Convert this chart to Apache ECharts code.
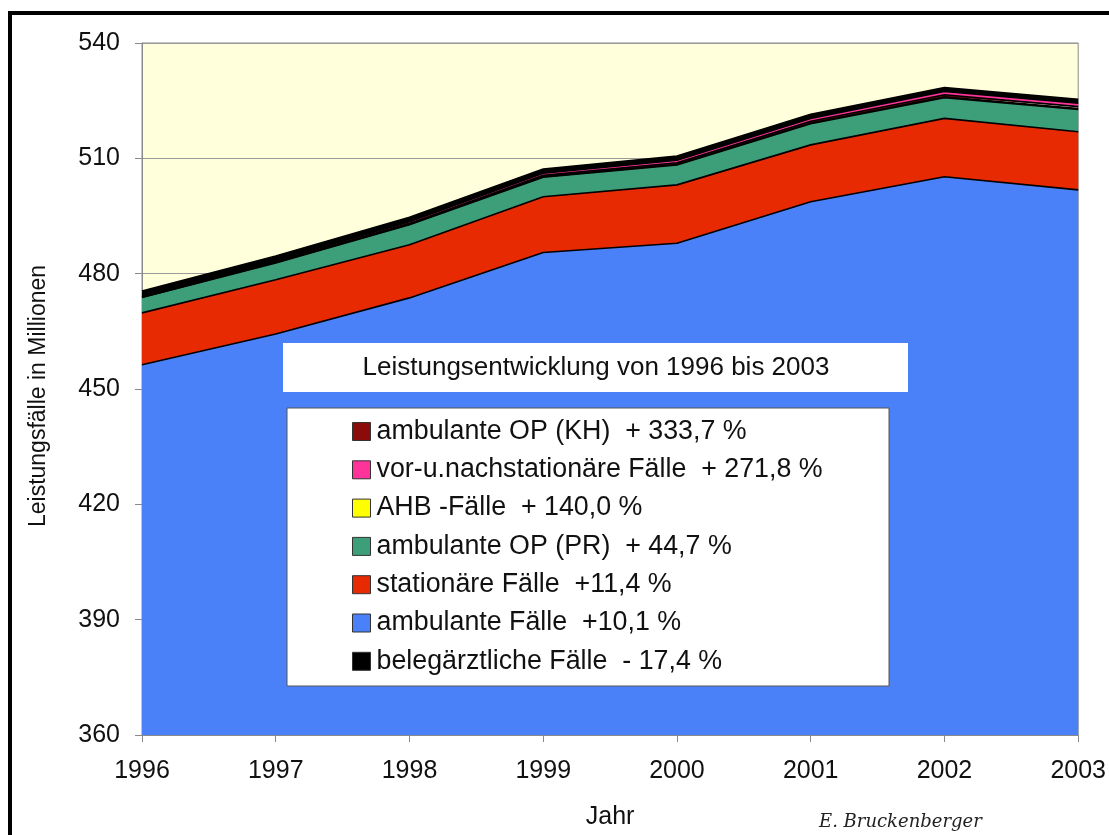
<!DOCTYPE html>
<html>
<head>
<meta charset="utf-8">
<script src="https://cdn.jsdelivr.net/npm/echarts@6/dist/echarts.min.js"></script>
<style>
  html, body { margin: 0; padding: 0; background: #ffffff; }
  #chart { width: 1109px; height: 835px; }
</style>
</head>
<body>
<div id="chart"></div>
<script>
// Leistungsfälle in Millionen, 1996–2003 (gestapelt, von unten nach oben)
var years = ['1996', '1997', '1998', '1999', '2000', '2001', '2002', '2003'];

var ambulanteFaelle  = [456.3, 464.3, 473.7, 485.5, 487.9, 498.7, 505.2, 501.8];
var stationaer       = [13.5, 14.1, 13.8, 14.5, 15.2, 14.8, 15.2, 15.1];
var ambOpPraxis      = [4.0, 4.4, 5.2, 5.1, 5.2, 5.5, 5.4, 5.8];
var ahb              = [0.10, 0.11, 0.13, 0.15, 0.17, 0.20, 0.22, 0.24];
var ambOpKH          = [0.12, 0.18, 0.25, 0.32, 0.38, 0.44, 0.50, 0.52];
var vorNachstationaer= [0.24, 0.30, 0.40, 0.55, 0.65, 0.75, 0.85, 0.89];
var belegaerztlich   = [1.20, 1.19, 1.17, 1.12, 1.08, 1.05, 1.02, 0.99];

var yTicks = [360, 390, 420, 450, 480, 510, 540];

// Legend entries, top to bottom, with their change 1996–2003
var legendNames = [
  'ambulante OP (KH)',
  'vor-u.nachstationäre Fälle',
  'AHB -Fälle',
  'ambulante OP (PR)',
  'stationäre Fälle',
  'ambulante Fälle',
  'belegärztliche Fälle'
];
var legendChanges = [
  '  + 333,7 %',
  '  + 271,8 %',
  '  + 140,0 %',
  '  + 44,7 %',
  '  +11,4 %',
  '  +10,1 %',
  '  - 17,4 %'
];

var stackOrder = [
  { name: 'ambulante Fälle',            data: ambulanteFaelle,   color: '#4A80F8' },
  { name: 'stationäre Fälle',           data: stationaer,        color: '#E82A02' },
  { name: 'ambulante OP (PR)',          data: ambOpPraxis,       color: '#3D9F79' },
  { name: 'AHB -Fälle',                 data: ahb,               color: '#FFFF00' },
  { name: 'ambulante OP (KH)',          data: ambOpKH,           color: '#8B0A0A' },
  { name: 'vor-u.nachstationäre Fälle', data: vorNachstationaer, color: '#FF3399' },
  { name: 'belegärztliche Fälle',       data: belegaerztlich,    color: '#000000' }
];

var FONT = 'Liberation Sans, Arial, sans-serif';

var series = stackOrder.map(function (s) {
  return {
    name: s.name,
    type: 'line',
    stack: 'total',
    data: s.data,
    symbol: 'none',
    showSymbol: false,
    clip: true,
    color: s.color,
    z: 3,
    itemStyle: { color: s.color, borderColor: '#222', borderWidth: 1 },
    lineStyle: { color: '#000000', width: 1.6 },
    areaStyle: { color: s.color, opacity: 1 },
    emphasis: { disabled: true }
  };
});

var chart = echarts.init(document.getElementById('chart'), null, { renderer: 'canvas' });

chart.setOption({
  backgroundColor: '#ffffff',
  animation: false,
  grid: {
    left: 142, right: 30, top: 43, bottom: 100,
    show: true,
    backgroundColor: '#FFFFDC',
    borderColor: '#8a8a8a',
    borderWidth: 1
  },
  xAxis: {
    type: 'category',
    data: years,
    boundaryGap: false,
    name: 'Jahr',
    nameLocation: 'middle',
    nameGap: 70,
    nameTextStyle: { fontFamily: FONT, fontSize: 25, color: '#111' },
    axisLine: { lineStyle: { color: '#8a8a8a', width: 1 } },
    axisTick: { show: true, length: 7, lineStyle: { color: '#8a8a8a' } },
    axisLabel: { fontFamily: FONT, fontSize: 25, color: '#111', margin: 24 },
    splitLine: { show: false }
  },
  yAxis: {
    type: 'value',
    min: yTicks[0],
    max: yTicks[yTicks.length - 1],
    interval: yTicks[1] - yTicks[0],
    name: 'Leistungsfälle in Millionen',
    nameLocation: 'middle',
    nameGap: 92,
    nameRotate: 90,
    nameTextStyle: { fontFamily: FONT, fontSize: 23, color: '#111', padding: [0, 14, 0, 0] },
    axisLine: { show: true, lineStyle: { color: '#8a8a8a', width: 1 } },
    axisTick: { show: true, length: 7, lineStyle: { color: '#8a8a8a' } },
    axisLabel: { fontFamily: FONT, fontSize: 25, color: '#111', margin: 22 },
    splitLine: { show: true, lineStyle: { color: '#9a9a9a', width: 1 } }
  },
  legend: {
    orient: 'vertical',
    left: 352,
    top: 418,
    padding: 0,
    itemWidth: 18,
    itemHeight: 18,
    itemGap: 11.3,
    icon: 'rect',
    data: legendNames,
    selectedMode: false,
    itemStyle: { borderColor: '#333', borderWidth: 1 },
    textStyle: { fontFamily: FONT, fontSize: 26.8, color: '#111', padding: [0, 0, 0, 1] },
    formatter: function (name) {
      var i = legendNames.indexOf(name);
      return name + legendChanges[i];
    },
    z: 12
  },
  graphic: [
    {
      type: 'rect',
      z: 10,
      shape: { x: 283, y: 343, width: 625, height: 49 },
      style: { fill: '#ffffff', stroke: 'none' }
    },
    {
      type: 'text',
      z: 11,
      x: 596, y: 368,
      style: {
        text: 'Leistungsentwicklung von 1996 bis 2003',
        font: '26px ' + FONT,
        fill: '#111',
        align: 'center',
        verticalAlign: 'middle'
      }
    },
    {
      type: 'rect',
      z: 10,
      shape: { x: 287, y: 408, width: 602, height: 278 },
      style: { fill: '#ffffff', stroke: '#555', lineWidth: 1 }
    },
    {
      type: 'text',
      z: 11,
      x: 819, y: 822,
      style: {
        text: 'E. Bruckenberger',
        font: 'italic 18px DejaVu Serif, Liberation Serif, serif',
        fill: '#222',
        align: 'left',
        verticalAlign: 'middle'
      }
    },
    {
      type: 'rect',
      z: 20,
      shape: { x: 10, y: 13, width: 1200, height: 900 },
      style: { fill: 'none', stroke: '#000', lineWidth: 4 }
    }
  ],
  series: series
});
</script>
</body>
</html>
